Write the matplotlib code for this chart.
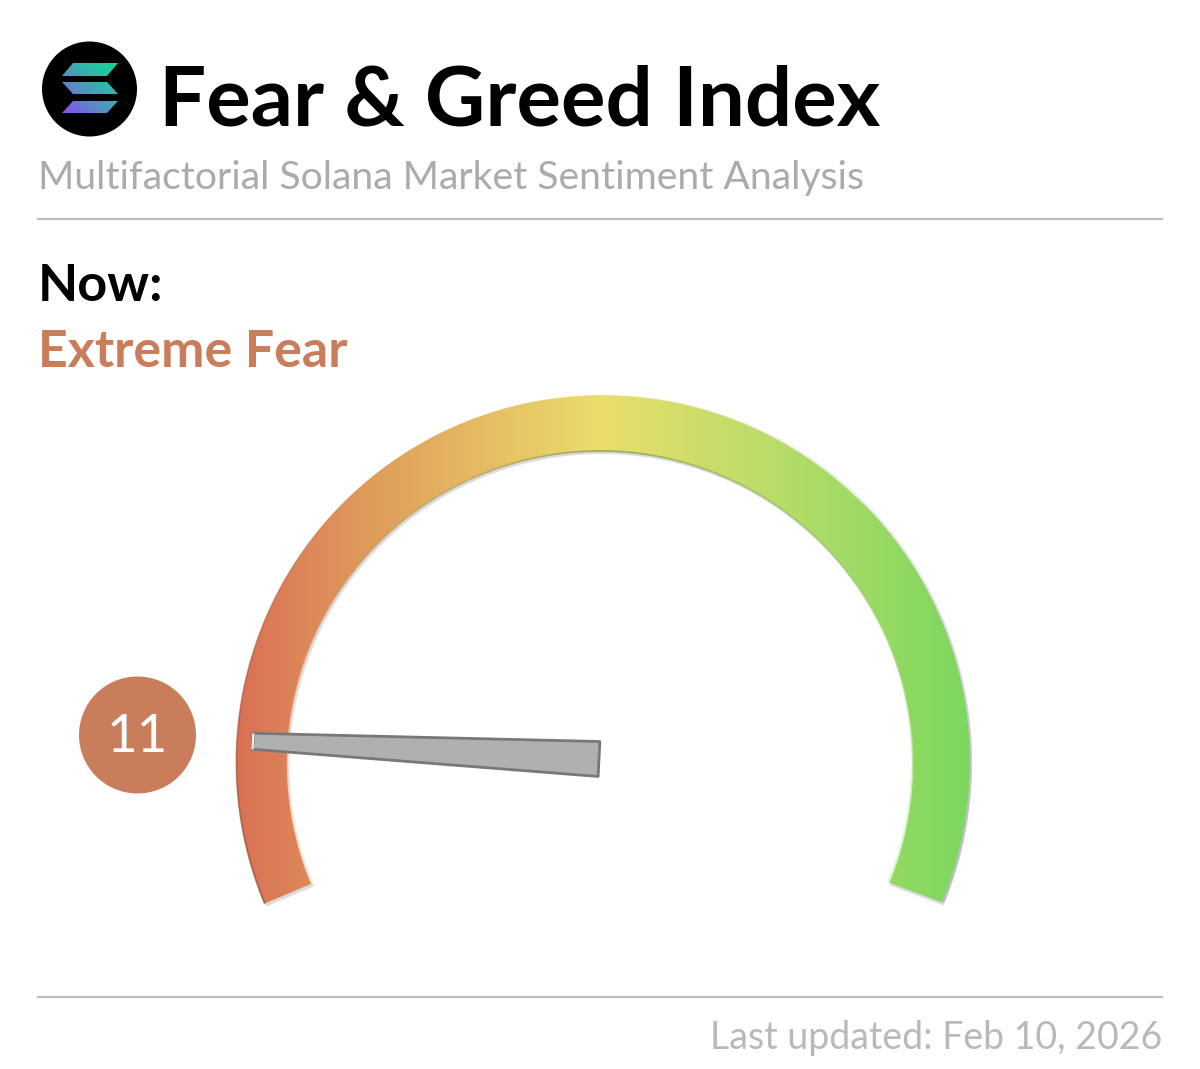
import numpy as np
import matplotlib
matplotlib.use("Agg")
import matplotlib.pyplot as plt
from matplotlib.collections import LineCollection
from matplotlib.colors import LinearSegmentedColormap, to_rgb
from matplotlib.patches import Circle, Polygon
from matplotlib.path import Path

plt.rcParams['font.family'] = ['Lato', 'DejaVu Sans']

# data
title = "Fear & Greed Index"
subtitle = "Multifactorial Solana Market Sentiment Analysis"
now_label = "Now:"
status = "Extreme Fear"
updated = "Last updated: Feb 10, 2026"
value = 11
gauge_stops = [0.0, 0.2, 0.5, 0.75, 1.0]
gauge_colors = ["#d97155", "#e0a05d", "#ebde6b", "#b5dc68", "#7cd75f"]
logo_colors = ["#8a4df0", "#5f86c8", "#2fb8a8", "#14d69a"]

# gauge geometry, pixels
cx, cy = 603, 762
r_out, r_in = 367, 312
inner_dx, inner_dy = -3, 1
start_deg = -22.7
end_deg = 202.5
needle_sweep = 233

fig = plt.figure(figsize=(12, 10.69), dpi=100)
ax = fig.add_axes([0, 0, 1, 1])
ax.set_xlim(0, 1200)
ax.set_ylim(1069, 0)
ax.axis("off")


def pt(r, deg, x0=cx, y0=cy):
    a = np.radians(deg)
    return x0 - r * np.cos(a), y0 - r * np.sin(a)


def ring(x0=cx, y0=cy):
    t = np.linspace(start_deg, end_deg, 400)
    xo, yo = pt(r_out, t, x0, y0)
    xi, yi = pt(r_in, t[::-1], x0 + inner_dx, y0 + inner_dy)
    return np.column_stack([np.r_[xo, xi], np.r_[yo, yi]])


def bevel(r, t0, t1, color, alpha, lw, x0=cx, y0=cy):
    # arc whose alpha fades out towards the t1 end
    t = np.linspace(t0, t1, 160)
    x, y = pt(r, t, x0, y0)
    p = np.column_stack([x, y])
    segs = np.stack([p[:-1], p[1:]], axis=1)
    rgba = np.zeros((len(segs), 4))
    rgba[:, :3] = to_rgb(color)
    rgba[:, 3] = alpha * np.linspace(1, 0, len(segs))
    ax.add_collection(LineCollection(segs, colors=rgba, linewidths=lw, zorder=3))


# texts
ax.text(159, 126, title, fontsize=60, fontweight="bold", color="black", va="baseline")
ax.text(38, 189, subtitle, fontsize=28.2, color="#ababab", va="baseline")
ax.text(37.5, 301, now_label, fontsize=37.5, fontweight="bold", color="black", va="baseline")
ax.text(37.5, 367, status, fontsize=37.4, fontweight="bold", color="#c97d5a", va="baseline")
ax.text(1162, 1049, updated, fontsize=27, color="#b9b9b9", ha="right", va="baseline")

ax.plot([38, 1162], [219, 219], color="#bcbcbc", lw=1.6)
ax.plot([38, 1162], [997, 997], color="#bcbcbc", lw=1.6)

# logo
ax.add_patch(Circle((89.5, 89), 47.5, color="black", lw=0))
logo_cmap = LinearSegmentedColormap.from_list("logo", logo_colors)
xx, yy = np.meshgrid(np.linspace(0, 1, 64), np.linspace(1, 0, 64))
logo_im = ax.imshow((xx + yy) / 2, extent=(62, 118, 113, 63), cmap=logo_cmap,
                    origin="upper", aspect="auto", zorder=3)
logo_bars = [(63, 76, False), (82, 94, True), (101, 113, False)]
verts, codes = [], []
for top, bottom, flip in logo_bars:
    if flip:
        p = [(62, top), (107, top), (118, bottom), (73, bottom)]
    else:
        p = [(73, top), (118, top), (107, bottom), (62, bottom)]
    verts += p + [p[0]]
    codes += [Path.MOVETO, Path.LINETO, Path.LINETO, Path.LINETO, Path.CLOSEPOLY]
logo_im.set_clip_path(Path(verts, codes), ax.transData)

# gauge, shadow first
ax.add_patch(Polygon(ring(cx + 1.5, cy + 3), color="#dcdcdc", lw=0, zorder=1))
gauge_cmap = LinearSegmentedColormap.from_list("gauge", list(zip(gauge_stops, gauge_colors)))
grad = np.linspace(0, 1, 512).reshape(1, -1)
im = ax.imshow(grad, extent=(cx - r_out, cx + r_out, cy + r_out, cy - r_out),
               cmap=gauge_cmap, aspect="auto", zorder=2)
band = Polygon(ring(), transform=ax.transData, fill=False, lw=0)
ax.add_patch(band)
im.set_clip_path(band)
ax.set_xlim(0, 1200)
ax.set_ylim(1069, 0)

# bevel lines round the band, each fades towards the top
ix, iy = cx + inner_dx, cy + inner_dy
bevel(r_out - 0.5, start_deg, 45, "#9d5a45", 0.8, 1.4)
bevel(r_out, 135, 60, "#ffffff", 0.5, 1.2)
bevel(r_out + 1, end_deg, 110, "#b9b9c0", 0.9, 1.6)
bevel(r_in, start_deg, 40, "#fdebe2", 1.0, 1.8, ix, iy)
bevel(r_in, end_deg, 145, "#e2f7da", 1.0, 1.8, ix, iy)
bevel(r_in, 90, 25, "#8a8f40", 0.7, 1.3, ix, iy)
bevel(r_in, 90, 155, "#6f9a3a", 0.7, 1.3, ix, iy)

# needle
needle_deg = start_deg + value / 100 * needle_sweep
a = np.radians(needle_deg)
px, py = 599, 759
ux, uy = -np.cos(a), -np.sin(a)
nx, ny = -uy, ux
length = 346.5
tip_w, base_w = 8, 17.5
needle = [(px + nx * base_w, py + ny * base_w),
          (px - nx * base_w, py - ny * base_w),
          (px + ux * length - nx * tip_w, py + uy * length - ny * tip_w),
          (px + ux * length + nx * tip_w, py + uy * length + ny * tip_w)]
ax.add_patch(Polygon(needle, closed=True, facecolor="#b0b0b3", edgecolor="#78787a",
                     lw=2, joinstyle="round", zorder=4))
ax.plot([needle[2][0], needle[3][0]], [needle[2][1], needle[3][1]], color="#f4f4f4", lw=1.5,
        solid_capstyle="butt", zorder=5)

# value badge
ax.add_patch(Circle((137.5, 735), 58.5, color="#c97d5a", lw=0, zorder=4))
ax.text(137.5, 752, str(value), fontsize=38, color="white", ha="center", va="baseline", zorder=5)

fig.savefig("out.png", dpi=100, facecolor="white")
